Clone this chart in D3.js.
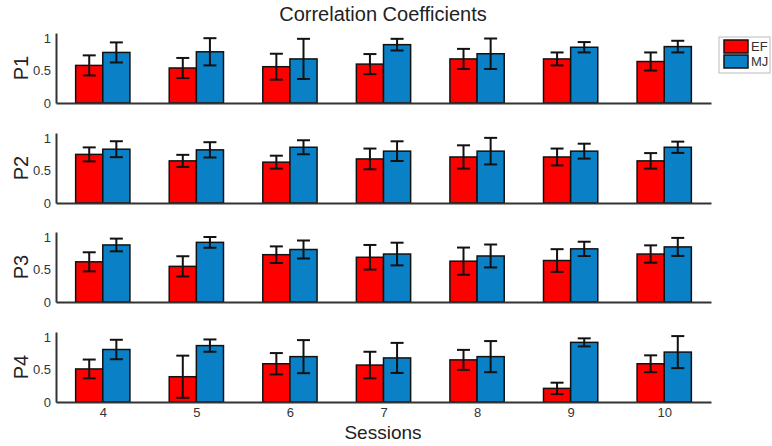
<!DOCTYPE html>
<html><head><meta charset="utf-8">
<script src="https://cdn.jsdelivr.net/npm/d3@7"></script>
<style>body{margin:0;background:#fff}svg{display:block;font-family:"Liberation Sans",Arial,sans-serif}</style>
</head><body><svg id="c" width="772" height="446"></svg>
<script>
const sessions = [4,5,6,7,8,9,10];
const panels = ["P1","P2","P3","P4"];
const seriesNames = ["EF","MJ"];
const efMean = [
  [0.58,0.54,0.56,0.60,0.68,0.68,0.64],
  [0.75,0.65,0.63,0.68,0.71,0.71,0.65],
  [0.62,0.55,0.73,0.69,0.63,0.64,0.74],
  [0.51,0.39,0.59,0.57,0.65,0.21,0.59]
];
const efErr = [
  [0.155,0.155,0.20,0.155,0.155,0.10,0.14],
  [0.108,0.093,0.10,0.16,0.18,0.13,0.12],
  [0.147,0.156,0.128,0.19,0.21,0.175,0.134],
  [0.145,0.325,0.165,0.205,0.154,0.088,0.13]
];
const mjMean = [
  [0.78,0.79,0.68,0.90,0.76,0.86,0.87],
  [0.83,0.82,0.86,0.80,0.80,0.80,0.86],
  [0.88,0.92,0.81,0.74,0.71,0.82,0.85],
  [0.81,0.87,0.70,0.68,0.70,0.92,0.77]
];
const mjErr = [
  [0.155,0.21,0.31,0.09,0.235,0.08,0.09],
  [0.123,0.118,0.108,0.152,0.205,0.115,0.087],
  [0.098,0.083,0.139,0.175,0.177,0.11,0.139],
  [0.15,0.095,0.255,0.232,0.24,0.062,0.247]
];
const yTicks = [0,0.5,1];

const svg = d3.select("#c");
const colors = {EF:"#ff0000", MJ:"#0a80c6"};
const x = d3.scaleLinear().domain([3.5,10.5]).range([56,711]);
const barW = 0.29;
const tops = [33,133,232,332];
const ph = 70;
const axisCol = "#333";

panels.forEach((p,i)=>{
  const y = d3.scaleLinear().domain([0,1.08]).range([tops[i]+ph, tops[i]]);
  const g = svg.append("g");
  const data = [];
  sessions.forEach((s,j)=>{
    data.push({s, k:"EF", v:efMean[i][j], e:efErr[i][j], off:-barW});
    data.push({s, k:"MJ", v:mjMean[i][j], e:mjErr[i][j], off:0});
  });
  g.selectAll("rect").data(data).join("rect")
    .attr("x", d=>x(d.s+d.off)).attr("width", d=>x(d.s+d.off+barW)-x(d.s+d.off))
    .attr("y", d=>y(d.v)).attr("height", d=>y(0)-y(d.v))
    .attr("fill", d=>colors[d.k]).attr("stroke","#111").attr("stroke-width",1.5);
  const eb = g.selectAll("g.eb").data(data).join("g").attr("class","eb")
    .attr("stroke","#111").attr("stroke-width",2);
  const cx = d=>x(d.s+d.off+barW/2);
  eb.append("line").attr("x1",cx).attr("x2",cx).attr("y1",d=>y(d.v+d.e)).attr("y2",d=>y(d.v-d.e));
  eb.append("line").attr("x1",d=>cx(d)-6.5).attr("x2",d=>cx(d)+6.5).attr("y1",d=>y(d.v+d.e)).attr("y2",d=>y(d.v+d.e));
  eb.append("line").attr("x1",d=>cx(d)-6.5).attr("x2",d=>cx(d)+6.5).attr("y1",d=>y(d.v-d.e)).attr("y2",d=>y(d.v-d.e));
  // axes
  const ya = d3.axisLeft(y).tickValues(yTicks).tickSize(0).tickPadding(5).tickFormat(d3.format(""));
  const yg = g.append("g").attr("transform",`translate(${x(3.5)},0)`).call(ya);
  yg.select(".domain").attr("stroke",axisCol).attr("stroke-width",2);
  yg.selectAll("text").attr("font-size",13).attr("fill","#333").attr("font-family","Liberation Sans, Arial");
  const xa = d3.axisBottom(x).tickValues(sessions).tickSize(0).tickPadding(6).tickFormat(i===3?d3.format("d"):()=> "");
  const xg = g.append("g").attr("transform",`translate(0,${y(0)})`).call(xa);
  xg.select(".domain").attr("stroke",axisCol).attr("stroke-width",2);
  xg.selectAll("text").attr("font-size",13).attr("fill","#333").attr("font-family","Liberation Sans, Arial");
  svg.append("text").attr("transform",`translate(28,${tops[i]+ph/2}) rotate(-90)`)
    .attr("text-anchor","middle").attr("font-size",20).attr("fill","#222").text(p);
});

svg.append("text").attr("x",383).attr("y",21).attr("text-anchor","middle")
  .attr("font-size",20).attr("fill","#222").text("Correlation Coefficients");
svg.append("text").attr("x",383).attr("y",439).attr("text-anchor","middle")
  .attr("font-size",19).attr("fill","#222").text("Sessions");

// legend
const lg = svg.append("g");
lg.append("rect").attr("x",719).attr("y",37).attr("width",51).attr("height",36)
  .attr("fill","#fff").attr("stroke","#bbb").attr("stroke-width",1);
seriesNames.forEach((n,k)=>{
  lg.append("rect").attr("x",724).attr("y",40+k*15).attr("width",24).attr("height",13)
    .attr("fill",colors[n]).attr("stroke","#111").attr("stroke-width",1.5);
  lg.append("text").attr("x",751).attr("y",51+k*15).attr("font-size",13).attr("fill","#333").text(n);
});
</script></body></html>
